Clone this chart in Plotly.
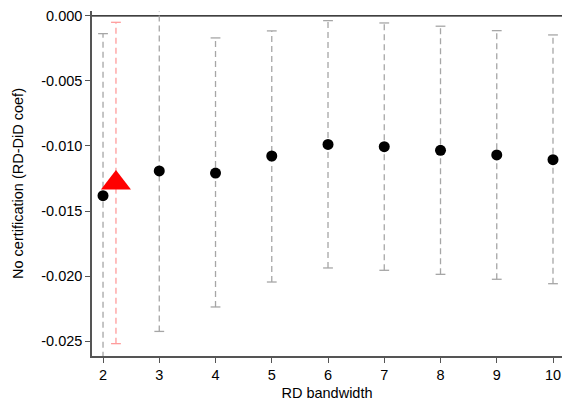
import plotly.graph_objects as go

# Data
bandwidth = [2, 3, 4, 5, 6, 7, 8, 9, 10]
coef = [-0.01382, -0.01192, -0.01208, -0.01077, -0.00988, -0.01005, -0.01033, -0.01069, -0.01105]
ci_upper = [-0.00136, 0.00046, -0.00169, -0.00115, -0.00036, -0.00054, -0.00079, -0.00113, -0.00146]
ci_lower = [-0.02628, -0.02426, -0.02238, -0.02046, -0.01938, -0.01956, -0.01987, -0.02025, -0.02059]

alt_x = [2.23]
alt_coef = [-0.01285]
alt_upper = [-0.00049]
alt_lower = [-0.02520]

ytick_vals = [0.0, -0.005, -0.010, -0.015, -0.020, -0.025]
ytick_text = ["0.000", "-0.005", "-0.010", "-0.015", "-0.020", "-0.025"]
xtick_vals = [2, 3, 4, 5, 6, 7, 8, 9, 10]
ref_line = 0.0

GRAY = "#a6a6a6"
PINK = "#ff9c9c"
FS = 14.5

def seg(xs, lo, hi):
    X, Y = [], []
    for x, a, b in zip(xs, lo, hi):
        X += [x, x, None]
        Y += [a, b, None]
    return X, Y

fig = go.Figure()

fig.add_hline(y=ref_line, line=dict(color="black", width=1.2), layer="below")

gx, gy = seg(bandwidth, ci_lower, ci_upper)
fig.add_trace(go.Scatter(x=gx, y=gy, mode="lines",
                         line=dict(color=GRAY, width=1.3, dash="6px,4px"),
                         hoverinfo="skip", showlegend=False))
rx, ry = seg(alt_x, alt_lower, alt_upper)
fig.add_trace(go.Scatter(x=rx, y=ry, mode="lines",
                         line=dict(color=PINK, width=1.3, dash="6px,4px"),
                         hoverinfo="skip", showlegend=False))

# caps
fig.add_trace(go.Scatter(x=bandwidth, y=ci_upper, mode="markers", cliponaxis=False,
                         marker=dict(symbol="line-ew", size=7, line=dict(color=GRAY, width=1.3)),
                         showlegend=False))
fig.add_trace(go.Scatter(x=bandwidth, y=ci_lower, mode="markers", cliponaxis=True,
                         marker=dict(symbol="line-ew", size=7, line=dict(color=GRAY, width=1.3)),
                         showlegend=False))
fig.add_trace(go.Scatter(x=alt_x + alt_x, y=alt_upper + alt_lower, mode="markers", cliponaxis=False,
                         marker=dict(symbol="line-ew", size=7, line=dict(color=PINK, width=1.3)),
                         showlegend=False))

# points
fig.add_trace(go.Scatter(x=bandwidth, y=coef, mode="markers", cliponaxis=False,
                         marker=dict(symbol="circle", size=11, color="black"),
                         showlegend=False))
fig.add_trace(go.Scatter(x=alt_x, y=alt_coef, mode="markers", cliponaxis=False,
                         marker=dict(symbol="triangle-up", size=26, color="#ff0000"),
                         showlegend=False))

fig.update_layout(
    width=562, height=407,
    margin=dict(l=92, r=0, t=11, b=51),
    paper_bgcolor="white", plot_bgcolor="white",
    font=dict(family="Liberation Sans, Arial, sans-serif", size=FS, color="black"),
)
fig.update_xaxes(
    range=[1.804, 10.16], tickvals=xtick_vals, ticks="outside", ticklen=5,
    tickcolor="#555555", showline=True, linecolor="#555555", linewidth=1.5,
    showgrid=False, zeroline=False, automargin=False,
    title=dict(text="RD bandwidth", font=dict(size=FS), standoff=6),
    tickfont=dict(size=FS),
)
fig.update_yaxes(
    range=[-0.02615, 0.00038], tickvals=ytick_vals, ticktext=ytick_text,
    ticks="outside", ticklen=5, tickcolor="#555555",
    showline=True, linecolor="#555555", linewidth=1.5,
    showgrid=False, zeroline=False,
    automargin=False,
    title=dict(text="No certification (RD-DiD coef)", font=dict(size=FS), standoff=14),
    tickfont=dict(size=FS),
)

fig.write_html(
    "out.html",
    config={"displayModeBar": False},
    post_script="document.body.style.margin='0';document.body.style.overflow='hidden';",
)
